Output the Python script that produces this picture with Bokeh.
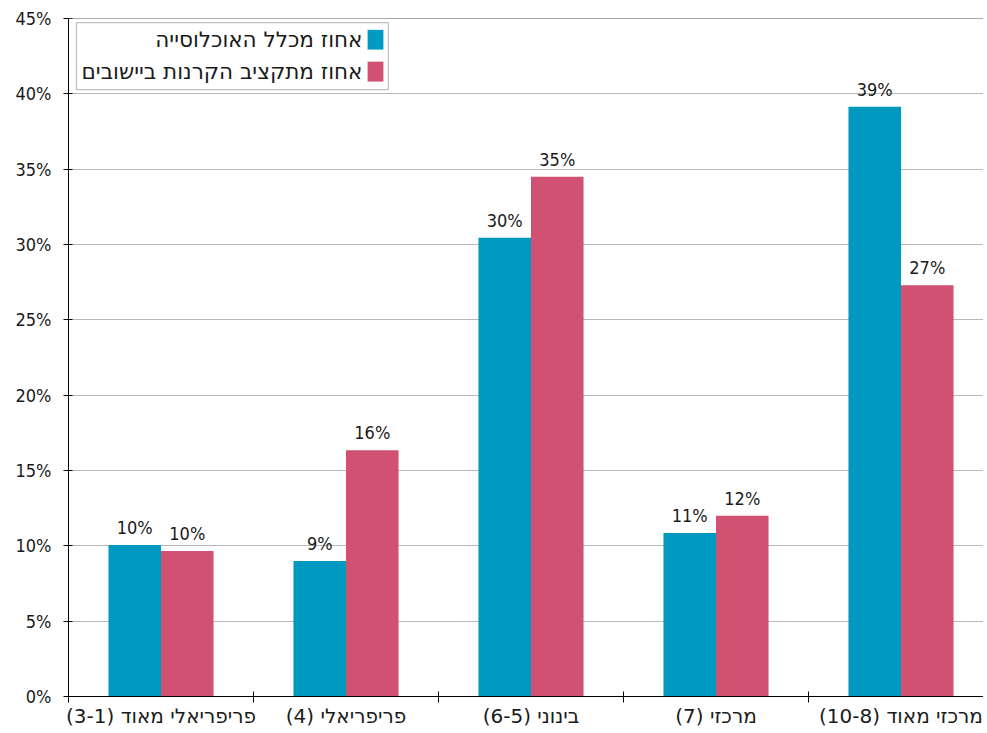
from bokeh.plotting import figure
from bokeh.models import FixedTicker, PrintfTickFormatter, BoxAnnotation, Label, Span, Range1d
from bokeh.core.properties import value
from bokeh.embed import file_html
from bokeh.resources import INLINE

RLE, PDF = "\u202b", "\u202c"
categories = ["פריפריאלי מאוד (3-1)", "פריפריאלי (4)", "בינוני (6-5)", "מרכזי (7)", "מרכזי מאוד (10-8)"]
series_names = ["אחוז מכלל האוכלוסייה", "אחוז מתקציב הקרנות ביישובים"]
population = [10.05, 9.0, 30.45, 10.85, 39.15]
budget = [9.65, 16.35, 34.5, 12.0, 27.3]
population_labels = ["10%", "9%", "30%", "11%", "39%"]
budget_labels = ["10%", "16%", "35%", "12%", "27%"]
y_ticks = [0, 5, 10, 15, 20, 25, 30, 35, 40, 45]

BLUE = "#0099BF"
PINK = "#D15172"
FONT = "DejaVu Sans Condensed"
HFONT = "DejaVu Sans"
TXT = "#1a1a1a"

W, H = 983, 730
LB = 68
p = figure(width=W, height=H, output_backend="svg", toolbar_location=None,
           x_range=Range1d(0, (W - LB) / 185.0), y_range=Range1d(0, 45),
           min_border_left=LB, min_border_right=0, min_border_top=18, min_border_bottom=32)
p.outline_line_color = None
p.background_fill_color = "white"
p.border_fill_color = "white"

n = len(categories)
centers = [i + 0.5 for i in range(n)]
bw = 0.284
xb = [c - bw / 2 for c in centers]
xp = [c + bw / 2 for c in centers]

p.vbar(x=xb, top=population, width=bw, fill_color=BLUE, line_color=None)
p.vbar(x=xp, top=budget, width=bw, fill_color=PINK, line_color=None)

p.text(x=xb, y=population, text=population_labels, text_align="center", text_baseline="bottom",
       y_offset=-7, text_font=value(FONT), text_font_size="18px", text_color=TXT)
p.text(x=xp, y=budget, text=budget_labels, text_align="center", text_baseline="bottom",
       y_offset=-7, text_font=value(FONT), text_font_size="18px", text_color=TXT)

# x axis
xa = p.xaxis[0]
xa.ticker = FixedTicker(ticks=centers, minor_ticks=list(range(n + 1)))
xa.major_label_overrides = {c: RLE + lab + PDF for c, lab in zip(centers, categories)}
xa.major_tick_in = 0
xa.major_tick_out = 0
xa.minor_tick_in = 5
xa.minor_tick_out = 6
xa.minor_tick_line_color = "black"
xa.axis_line_color = "black"
xa.major_label_text_font = HFONT
xa.major_label_text_font_size = "20px"
xa.major_label_text_color = TXT
xa.major_label_standoff = 1

# y axis
ya = p.yaxis[0]
ya.ticker = FixedTicker(ticks=y_ticks, minor_ticks=[])
ya.formatter = PrintfTickFormatter(format="%d%%")
ya.major_tick_in = 4
ya.major_tick_out = 5
ya.major_tick_line_color = "black"
ya.axis_line_color = "black"
ya.major_label_text_font = FONT
ya.major_label_text_font_size = "18px"
ya.major_label_text_color = TXT
ya.major_label_standoff = 12

p.xgrid.grid_line_color = None
p.ygrid.grid_line_color = "#b8b8b8"
p.ygrid.ticker = FixedTicker(ticks=y_ticks)
p.add_layout(Span(location=45, dimension="width", line_color="#555555", line_width=1))

# legend (right-to-left layout)
p.add_layout(BoxAnnotation(left=0.043, right=1.729, bottom=40.28, top=44.73,
                           fill_color="white", fill_alpha=1, line_color="#333333", line_width=1.2))
p.add_layout(BoxAnnotation(left=1.616, right=1.703, bottom=42.93, top=44.26,
                           fill_color=BLUE, fill_alpha=1, line_color="white", line_width=1))
p.add_layout(BoxAnnotation(left=1.616, right=1.703, bottom=40.81, top=42.14,
                           fill_color=PINK, fill_alpha=1, line_color="white", line_width=1))
p.add_layout(Label(x=1.589, y=43.6, text=series_names[0], text_align="right", text_baseline="middle",
                   text_font=HFONT, text_font_size="21.5px", text_color=TXT))
p.add_layout(Label(x=1.589, y=41.47, text=series_names[1], text_align="right", text_baseline="middle",
                   text_font=HFONT, text_font_size="21.5px", text_color=TXT))

open("out.html", "w").write(file_html(p, INLINE))
